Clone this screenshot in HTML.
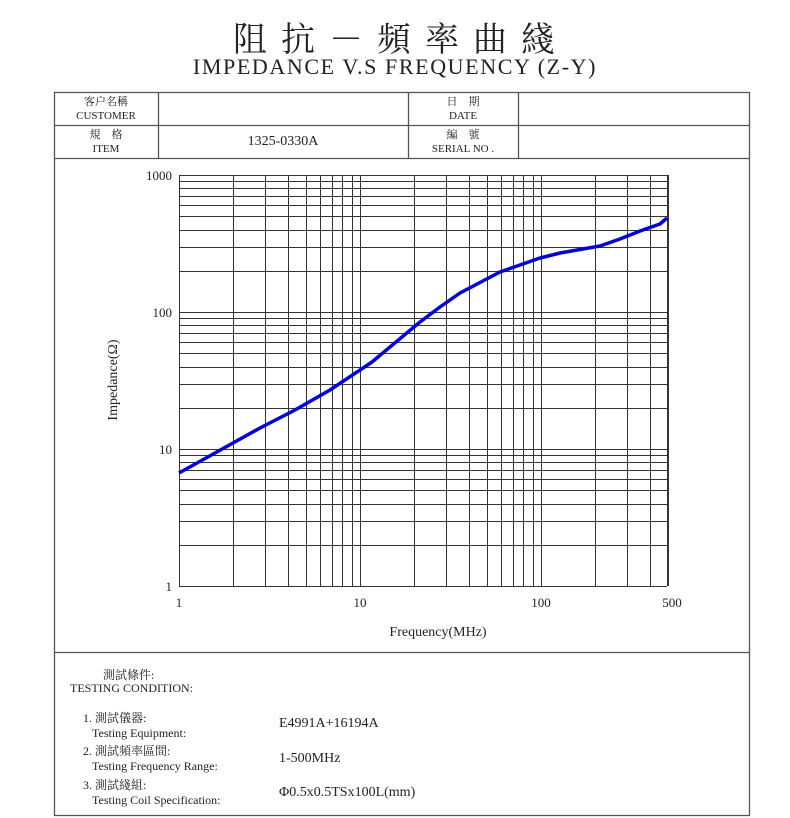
<!DOCTYPE html>
<html><head><meta charset="utf-8"><style>
body{margin:0;width:790px;height:818px;background:#fff;font-family:"Liberation Serif","Noto Serif CJK SC",serif;color:#222;position:relative;overflow:hidden}
.a{position:absolute;white-space:nowrap}
</style></head><body>
<div class="a" style="left:6px;width:790px;top:12px;text-align:center;font-size:34px;letter-spacing:14px;font-family:'Noto Serif CJK SC',serif">阻抗－頻率曲綫</div>
<div class="a" style="left:0;width:790px;top:54px;text-align:center;font-size:22px;letter-spacing:1.6px">IMPEDANCE V.S FREQUENCY (Z-Y)</div>
<svg class="a" style="left:0;top:0" width="790" height="818">
<g stroke="#555" stroke-width="1.3" fill="none">
<rect x="54.5" y="92.5" width="695" height="723"/>
<line x1="54" y1="125.5" x2="749" y2="125.5"/>
<line x1="54" y1="158.5" x2="749" y2="158.5"/>
<line x1="158.5" y1="92" x2="158.5" y2="158"/>
<line x1="408.5" y1="92" x2="408.5" y2="158"/>
<line x1="518.5" y1="92" x2="518.5" y2="158"/>
<line x1="54" y1="652.5" x2="749" y2="652.5"/>
</g>
<g id="grid" stroke="#333" stroke-width="1"></g>
<polyline fill="none" stroke="#0000ee" stroke-width="3.5" stroke-linejoin="round" points="179,473 215,453 260,428 295,410 330,390 372,362 420,322 440,307 460,293 500,272 540,258 560,253 600,246 620,239 640,231 660,224 667,218"/>
<g font-size="13" fill="#222" font-family="Liberation Serif,serif">
<text x="172" y="180" text-anchor="end">1000</text>
<text x="172" y="317" text-anchor="end">100</text>
<text x="172" y="454" text-anchor="end">10</text>
<text x="172" y="591" text-anchor="end">1</text>
<text x="179" y="607" text-anchor="middle">1</text>
<text x="360" y="607" text-anchor="middle">10</text>
<text x="541" y="607" text-anchor="middle">100</text>
<text x="672" y="607" text-anchor="middle">500</text>
<text x="438" y="636" text-anchor="middle" font-size="14">Frequency(MHz)</text>
<text transform="translate(117,380) rotate(-90)" text-anchor="middle" font-size="14">Impedance(Ω)</text>
</g>
</svg>
<script>
var g=document.getElementById('grid'),s='';
var x0=179,dx=181,y0=586,dy=137;
for(var d=0;d<3;d++)for(var k=1;k<10;k++){var x=x0+dx*(d+Math.log10(k));if(x>668)continue;x=Math.round(x)+0.5;s+='<line x1="'+x+'" y1="175" x2="'+x+'" y2="586"/>';}
s+='<line x1="667.5" y1="175" x2="667.5" y2="586"/>';
for(var d=0;d<3;d++)for(var k=1;k<=10;k++){var y=Math.round(y0-dy*(d+Math.log10(k)))+0.5;s+='<line x1="179" y1="'+y+'" x2="667" y2="'+y+'"/>';}
g.innerHTML=s;
</script>
<div class="a" style="left:54px;width:104px;top:95px;text-align:center;font-size:11px;line-height:14px">客户名稱<br>CUSTOMER</div>
<div class="a" style="left:54px;width:104px;top:128px;text-align:center;font-size:11px;line-height:14px">規　格<br>ITEM</div>
<div class="a" style="left:158px;width:250px;top:134px;text-align:center;font-size:14px">1325-0330A</div>
<div class="a" style="left:408px;width:110px;top:95px;text-align:center;font-size:11px;line-height:14px">日　期<br>DATE</div>
<div class="a" style="left:408px;width:110px;top:128px;text-align:center;font-size:11px;line-height:14px">編　號<br>SERIAL NO .</div>
<div class="a" style="left:103px;top:666px;font-size:12px">測試條件:</div>
<div class="a" style="left:70px;top:681px;font-size:12px">TESTING CONDITION:</div>
<div class="a" style="left:83px;top:711px;font-size:12px;line-height:15px">1. 測試儀器:<br>&nbsp;&nbsp;&nbsp;Testing Equipment:</div>
<div class="a" style="left:83px;top:744px;font-size:12px;line-height:15px">2. 測試頻率區間:<br>&nbsp;&nbsp;&nbsp;Testing Frequency Range:</div>
<div class="a" style="left:83px;top:778px;font-size:12px;line-height:15px">3. 測試綫組:<br>&nbsp;&nbsp;&nbsp;Testing Coil Specification:</div>
<div class="a" style="left:279px;top:716px;font-size:14px">E4991A+16194A</div>
<div class="a" style="left:279px;top:751px;font-size:14px">1-500MHz</div>
<div class="a" style="left:279px;top:785px;font-size:14px">Φ0.5x0.5TSx100L(mm)</div>
</body></html>
